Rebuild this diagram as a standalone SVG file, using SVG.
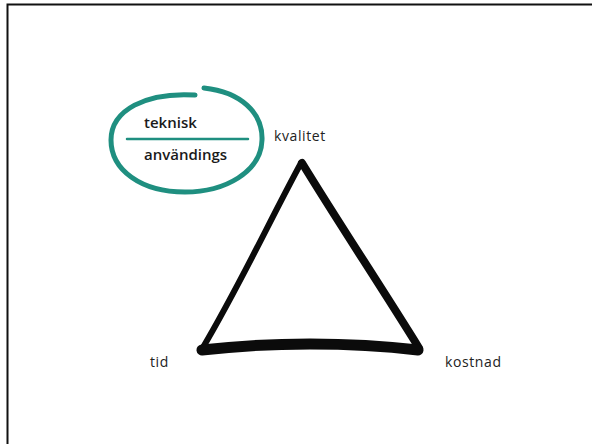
<svg xmlns="http://www.w3.org/2000/svg" width="592" height="444" viewBox="0 0 592 444">
<style>
.lbl{font-family:"Open Sans","Noto Sans","Liberation Sans",sans-serif;font-size:14px;letter-spacing:0.6px;fill:#222}
.bold{font-family:"Open Sans","Noto Sans","Liberation Sans",sans-serif;font-size:15px;font-weight:600;fill:#1a1a1a}
.edge{fill:none;stroke:#0b0b0b;stroke-linecap:round;stroke-linejoin:round}
.teal{fill:none;stroke:#1f8f80;stroke-linecap:round}
</style>
<rect x="0" y="0" width="592" height="444" fill="#fff"/>
<rect id="frame" x="7.5" y="4.5" width="600" height="460" fill="none" stroke="#111" stroke-width="2"/>
<g id="connectors">
<path class="edge" d="M301,163 C270,220 240,285 202,349" stroke-width="6"/>
<path class="edge" d="M302,163 C340,225 380,285 419,348" stroke-width="8"/>
<path class="edge" d="M202,350 C270,342 350,342 418,350" stroke-width="11"/>
</g>
<g id="note">
<path class="teal" d="M204,88 C241,92 263,113 262,140 C261,172 225,192 185,192 C141,192 111,170 111,140 C111,110 146,92 195,95" stroke-width="5"/>
<path class="teal" d="M127,139 L248,139" stroke-width="2.5"/>
<text class="bold" x="144" y="128">teknisk</text>
<text class="bold" x="144" y="160">användings</text>
</g>
<g id="kvalitet"><text class="lbl" x="274" y="141">kvalitet</text></g>
<g id="tid"><text class="lbl" x="150" y="367">tid</text></g>
<g id="kostnad"><text class="lbl" x="445" y="367">kostnad</text></g>
</svg>
